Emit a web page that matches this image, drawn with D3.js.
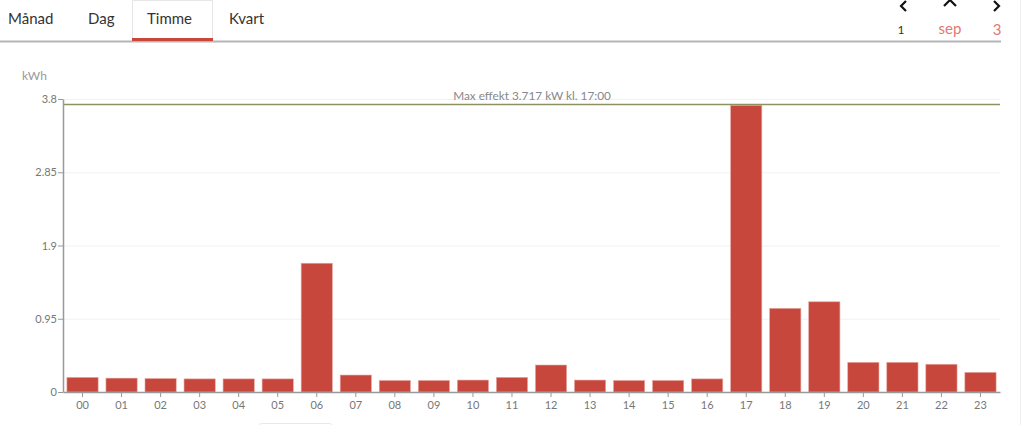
<!DOCTYPE html>
<html><head><meta charset="utf-8">
<script src="https://cdnjs.cloudflare.com/ajax/libs/d3/7.8.5/d3.min.js"></script>
<style>
body{margin:0;background:#fff;font-family:Lato,"Open Sans",sans-serif;}
</style></head>
<body><svg id="c" width="1024" height="425"></svg>
<script>
const hours = ["00","01","02","03","04","05","06","07","08","09","10","11","12","13","14","15","16","17","18","19","20","21","22","23"];
const values = [0.19,0.18,0.175,0.17,0.17,0.17,1.67,0.22,0.15,0.15,0.155,0.19,0.35,0.155,0.15,0.15,0.17,3.717,1.085,1.17,0.385,0.385,0.36,0.255];
const yTicks = [0,0.95,1.9,2.85,3.8];
const tabs = ["Månad","Dag","Timme","Kvart"];
const maxValue = 3.717;
const maxLabel = "Max effekt 3.717 kW kl. 17:00";

const svg = d3.select("#c");
const L = 63, R = 1000, T = 99, B = 392;

// tabs header
const tabX = [8, 88, 147, 229];
svg.append("line").attr("x1",0).attr("x2",1001).attr("y1",41.5).attr("y2",41.5).attr("stroke","#b5b5b5").attr("stroke-width",2);
svg.append("path").attr("d","M132.5,41 V0.5 H212.5 V41").attr("fill","#fff").attr("stroke","#e6e6e6");
svg.append("rect").attr("x",132).attr("y",38).attr("width",81).attr("height",3).attr("fill","#c8473c");
svg.selectAll("text.tab").data(tabs).join("text").attr("class","tab")
  .attr("x",(d,i)=>tabX[i]).attr("y",24).attr("font-size",15).attr("fill","#333").text(d=>d);

// nav
const nav = svg.append("g").attr("fill","none").attr("stroke","#111").attr("stroke-width",2.2);
nav.append("path").attr("d","M906,1 L901,6 L906,11");
nav.append("path").attr("d","M944,6 L950,0 L956,6");
nav.append("path").attr("d","M994,1 L999,6 L994,11");
svg.append("text").attr("x",901).attr("y",34).attr("font-size",12).attr("fill","#333").attr("text-anchor","middle").text("1");
svg.append("text").attr("x",950).attr("y",34).attr("font-size",15).attr("fill","#e07a70").attr("text-anchor","middle").text("sep");
svg.append("text").attr("x",997).attr("y",35).attr("font-size",15).attr("fill","#e07a70").attr("text-anchor","middle").text("3");

// right faint border
svg.append("line").attr("x1",1020.5).attr("x2",1020.5).attr("y1",0).attr("y2",425).attr("stroke","#eeeeee");

const x = d3.scaleBand().domain(hours).range([L,R]).paddingInner(0.2).paddingOuter(0.1);
const y = d3.scaleLinear().domain([0,3.8]).range([B,T]);

// grid
svg.append("g").selectAll("line").data(yTicks.slice(1)).join("line")
  .attr("x1",L).attr("x2",R).attr("y1",d=>y(d)+0.5).attr("y2",d=>y(d)+0.5)
  .attr("stroke","#eef3f1").attr("stroke-width",1);

// bars
svg.append("g").selectAll("rect").data(values).join("rect")
  .attr("x",(d,i)=>x(hours[i])).attr("width",x.bandwidth())
  .attr("y",d=>y(d)).attr("height",d=>B-y(d))
  .attr("fill","#c8473c").attr("stroke","#e8a9a3").attr("stroke-width",0.6);

// max line
svg.append("line").attr("x1",L).attr("x2",R).attr("y1",y(maxValue)-1).attr("y2",y(maxValue)-1)
  .attr("stroke","#8e9160").attr("stroke-width",1.5);
svg.append("text").attr("x",532).attr("y",100).attr("text-anchor","middle")
  .attr("font-size",11.8).attr("fill","#888").text(maxLabel);

// axes
const yAxis = svg.append("g").attr("transform",`translate(${L},0)`)
  .call(d3.axisLeft(y).tickValues(yTicks).tickFormat(d=>String(d)).tickSize(5).tickSizeOuter(0));
const xAxis = svg.append("g").attr("transform",`translate(0,${B})`)
  .call(d3.axisBottom(x).tickSize(5).tickSizeOuter(0));
[yAxis,xAxis].forEach(a=>{
  a.select(".domain").attr("stroke","#999").attr("stroke-width",1.5);
  a.selectAll(".tick line").attr("stroke","#999");
  a.selectAll(".tick text").attr("fill","#777").attr("font-size",11).attr("font-family","Lato,sans-serif");
});
yAxis.selectAll(".tick text").attr("x",-6);
xAxis.selectAll(".tick text").attr("y",9);

svg.append("text").attr("x",22).attr("y",80).attr("font-size",12).attr("fill","#999").text("kWh");

// small box bottom
svg.append("rect").attr("x",258.5).attr("y",423.5).attr("width",74).attr("height",10).attr("rx",3).attr("fill","none").attr("stroke","#e8e8e8");
</script></body></html>
